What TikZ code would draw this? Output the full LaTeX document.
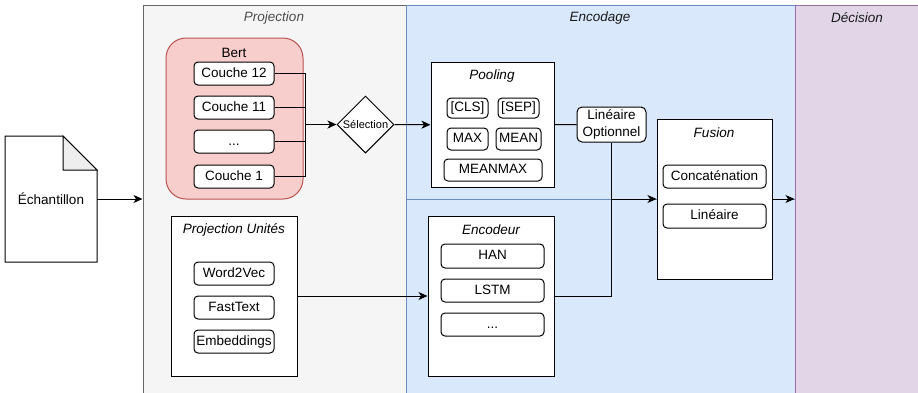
\documentclass[tikz,border=0pt]{standalone}
\usepackage{fontspec}
\setmainfont{Liberation Sans}
\usetikzlibrary{arrows.meta,shapes.geometric,calc}
\definecolor{projfill}{HTML}{F5F5F5}
\definecolor{projdraw}{HTML}{666666}
\definecolor{encfill}{HTML}{DAE8FC}
\definecolor{encdraw}{HTML}{6C8EBF}
\definecolor{decfill}{HTML}{E1D5E7}
\definecolor{decdraw}{HTML}{9673A6}
\definecolor{bertfill}{HTML}{F8CECC}
\definecolor{bertdraw}{HTML}{B85450}
\definecolor{foldgray}{HTML}{EEEEEE}
\definecolor{projtext}{HTML}{4D4D4D}
\definecolor{darktext}{HTML}{1A1A1A}
\begin{document}
\begin{tikzpicture}[x=1pt,y=-1pt,
  every node/.style={font=\fontsize{13.5}{16.5}\selectfont, inner sep=0pt},
  panel/.style={rectangle, line width=1pt, anchor=north west},
  box/.style={rectangle, draw=black, fill=white, line width=1pt},
  rbox/.style={box, rounded corners=4pt, text height=10pt, text depth=3pt},
  title/.style={font=\fontsize{13.5}{16.5}\selectfont\itshape},
  wire/.style={line width=1pt},
  arr/.style={wire, -{Stealth[length=9pt,width=8pt,inset=2.5pt]}}
]
\useasboundingbox (0,0) rectangle (918,392);

% stage panels
\begin{scope}
  \clip (0,0) rectangle (918,392);
  \node[panel, fill=projfill, draw=projdraw, minimum width=263, minimum height=400] (proj) at (142.5,4.5) {};
  \node[panel, fill=encfill, draw=encdraw, minimum width=389, minimum height=194.5] (encup) at (405.5,4.5) {};
  \node[panel, fill=encfill, draw=encdraw, minimum width=389, minimum height=210] (enclow) at (405.5,199) {};
  \node[panel, fill=decfill, draw=decdraw, minimum width=140, minimum height=400] (dec) at (794.5,4.5) {};
\end{scope}
\node[title, text=projtext] (tproj) at (274,18) {Projection};
\node[title, text=darktext] (tenc) at (600,18) {Encodage};
\node[title, text=darktext] (tdec) at (857,18) {Décision};

% input document with folded corner
\filldraw[wire, fill=white] (5,136) -- (63,136) -- (97,170) -- (97,262) -- (5,262) -- cycle;
\filldraw[wire, fill=foldgray] (63,136) -- (63,170) -- (97,170) -- cycle;
\node[minimum width=92, minimum height=126] (doc) at (51,199) {Échantillon};

% Bert layers
\node[draw=bertdraw, fill=bertfill, line width=1pt, rounded corners=20pt,
      minimum width=137, minimum height=161] (bert) at (234.5,118.5) {};
\node (tbert) at (234,53) {Bert};
\node[rbox, minimum width=80, minimum height=23] (c12) at (234,73.5) {Couche 12};
\node[rbox, minimum width=80, minimum height=23] (c11) at (234,107.5) {Couche 11};
\node[rbox, minimum width=80, minimum height=23] (cdots) at (234,141.5) {...};
\node[rbox, minimum width=80, minimum height=23] (c1) at (234,176.5) {Couche 1};

\node[diamond, draw=black, fill=white, line width=1pt, minimum width=57, minimum height=57,
      font=\fontsize{11}{12}\selectfont] (sel) at (365.5,124.5) {Sélection};

% unit projection
\node[box, minimum width=126, minimum height=160] (pu) at (234,296) {};
\node[title] (tpu) at (234,230) {Projection Unités};
\node[rbox, minimum width=80, minimum height=23] (w2v) at (234,273.5) {Word2Vec};
\node[rbox, minimum width=80, minimum height=23] (ft) at (234,307.5) {FastText};
\node[rbox, minimum width=80, minimum height=23] (emb) at (234,341.5) {Embeddings};

% pooling
\node[box, minimum width=123, minimum height=125.5] (pool) at (492.5,124.75) {};
\node[title] (tpool) at (492,76) {Pooling};
\node[rbox, minimum width=41, minimum height=20] (cls) at (467.5,108) {[CLS]};
\node[rbox, minimum width=41, minimum height=20] (sep) at (518.5,108) {[SEP]};
\node[rbox, minimum width=41, minimum height=22] (pmax) at (467.5,139) {MAX};
\node[rbox, minimum width=45, minimum height=22] (pmean) at (518.5,139) {MEAN};
\node[rbox, minimum width=98, minimum height=22] (pmm) at (493,170) {MEANMAX};

\node[box, rounded corners=5pt, minimum width=69, minimum height=35, align=center] (linopt) at (611.5,124.5) {Linéaire\\Optionnel};

% encoder
\node[box, minimum width=126, minimum height=160] (enc) at (491,296) {};
\node[title] (tencd) at (491,230) {Encodeur};
\node[rbox, minimum width=103, minimum height=24] (han) at (492.5,256) {HAN};
\node[rbox, minimum width=103, minimum height=23] (lstm) at (492.5,290.5) {LSTM};
\node[rbox, minimum width=103, minimum height=23] (edots) at (492.5,324.5) {...};

% fusion
\node[box, minimum width=115, minimum height=160] (fus) at (714.5,199) {};
\node[title] (tfus) at (714,133) {Fusion};
\node[rbox, minimum width=103, minimum height=23] (concat) at (714.5,176.5) {Concaténation};
\node[rbox, minimum width=103, minimum height=24] (flin) at (714.5,216) {Linéaire};

% connectors
\coordinate (bus) at (305,124.5);
\draw[wire] (c12.east) -| (bus);
\draw[wire] (c1.east) -| (bus);
\draw[wire] (c11.east) -- (c11.east -| bus);
\draw[wire] (cdots.east) -- (cdots.east -| bus);
\draw[arr] (bus) -- (sel.west);
\draw[arr] (sel.east) -- (pool.west);
\draw[wire] (pool.east) -- (linopt.west);
\coordinate (jn) at (linopt.south |- fus.west);
\draw[arr] (linopt.south) -- (jn) -- (fus.west);
\draw[wire] (enc.east) -| (jn);
\draw[arr] (pu.east) -- (enc.west);
\draw[arr] (doc.east) -- (proj.west |- doc.east);
\draw[arr] (fus.east) -- (dec.west |- fus.east);
\end{tikzpicture}
\end{document}
